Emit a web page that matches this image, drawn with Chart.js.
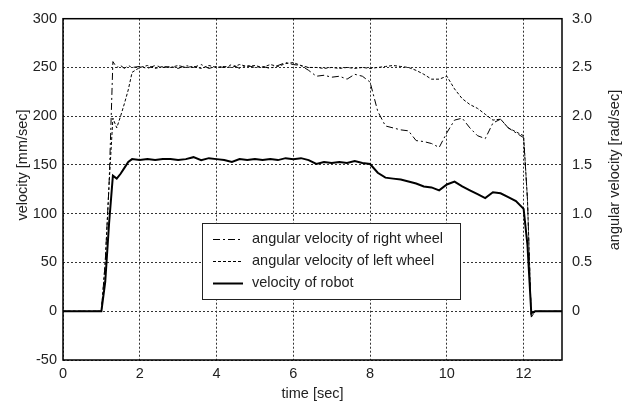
<!DOCTYPE html>
<html lang="en">
<head>
    <meta charset="UTF-8">
    <title>Velocity of robot and wheels</title>
    <style>
        body {
            margin: 0;
            background-color: white;
        }
        #chart {
            display: block;
        }
    </style>
</head>
<body>
    <canvas id="chart" width="624" height="401"></canvas>
    <script src="https://cdn.jsdelivr.net/npm/chart.js"></script>
    <script>
        // time [sec]
        const times = [0, 1.0, 1.1, 1.2, 1.3, 1.4, 1.5, 1.6, 1.7, 1.8,
            2.0, 2.2, 2.4, 2.6, 2.8, 3.0, 3.2, 3.4, 3.6, 3.8,
            4.0, 4.2, 4.4, 4.6, 4.8, 5.0, 5.2, 5.4, 5.6, 5.8,
            6.0, 6.2, 6.4, 6.6, 6.8, 7.0, 7.2, 7.4, 7.6, 7.8,
            8.0, 8.2, 8.4, 8.6, 8.8, 9.0, 9.2, 9.4, 9.6, 9.8,
            10.0, 10.2, 10.4, 10.6, 10.8, 11.0, 11.2, 11.4, 11.6, 11.8,
            12.0, 12.1, 12.2, 12.3, 13.0];

        // velocity of robot [mm/sec]
        const robotVel = [0, 0, 30, 90, 139, 136, 141, 147, 153, 156,
            155, 156, 155, 156, 156, 155, 156, 158, 155, 157,
            156, 155, 153, 156, 155, 156, 155, 156, 155, 157,
            156, 157, 155, 151, 153, 152, 153, 152, 154, 152,
            151, 142, 137, 136, 135, 133, 131, 128, 127, 124,
            130, 133, 128, 124, 120, 116, 122, 121, 117, 113,
            105, 68, -2, 0, 0];

        // angular velocity of right wheel [rad/sec]
        const rightWheel = [0, 0, 0.5, 1.3, 2.56, 2.5, 2.52, 2.49, 2.52, 2.5,
            2.51, 2.49, 2.52, 2.5, 2.51, 2.49, 2.52, 2.5, 2.53, 2.49,
            2.51, 2.5, 2.53, 2.49, 2.52, 2.5, 2.51, 2.49, 2.52, 2.55,
            2.53, 2.52, 2.47, 2.41, 2.42, 2.4, 2.41, 2.38, 2.43, 2.41,
            2.35, 2.05, 1.9, 1.88, 1.86, 1.85, 1.75, 1.74, 1.72, 1.68,
            1.83, 1.96, 1.98, 1.88, 1.80, 1.77, 1.93, 1.97, 1.88, 1.83,
            1.78, 1.15, -0.06, 0, 0];

        // angular velocity of left wheel [rad/sec]
        const leftWheel = [0, 0, 0.5, 1.3, 1.98, 1.88, 2.0, 2.13, 2.27, 2.45,
            2.5, 2.52, 2.49, 2.51, 2.5, 2.52, 2.5, 2.51, 2.49, 2.52,
            2.5, 2.51, 2.5, 2.53, 2.51, 2.52, 2.5, 2.53, 2.51, 2.54,
            2.55, 2.52, 2.5, 2.5, 2.49, 2.5, 2.49, 2.5, 2.49, 2.5,
            2.49, 2.5, 2.51, 2.52, 2.51, 2.5, 2.47, 2.43, 2.38, 2.38,
            2.41, 2.28, 2.18, 2.12, 2.08, 2.02, 1.96, 1.97, 1.88, 1.84,
            1.8, 1.15, -0.06, 0, 0];

        const FONT = { family: '"Liberation Sans", Arial, sans-serif', size: 14.5 };
        const INK = '#222';

        function pts(values) {
            return times.map((t, i) => ({ x: t, y: values[i] }));
        }

        function drawVerticalText(ctx, text, x, y) {
            ctx.save();
            ctx.translate(x, y);
            ctx.rotate(-Math.PI / 2);
            ctx.textAlign = 'center';
            ctx.textBaseline = 'middle';
            ctx.fillText(text, 0, 0);
            ctx.restore();
        }

        // frame round the plot area, y titles, legend box inside the plot
        const framePlugin = {
            id: 'frame',
            afterDatasetsDraw(chart) {
                const { ctx, chartArea } = chart;
                ctx.save();
                ctx.strokeStyle = '#000';
                ctx.lineWidth = 1.5;
                ctx.setLineDash([]);
                ctx.strokeRect(chartArea.left, chartArea.top,
                    chartArea.right - chartArea.left, chartArea.bottom - chartArea.top);

                ctx.font = FONT.size + 'px ' + FONT.family;
                ctx.fillStyle = INK;
                drawVerticalText(ctx, 'velocity [mm/sec]', 23, 165);
                drawVerticalText(ctx, 'angular velocity [rad/sec]', 615, 170);

                // legend
                const bx = 202, by = 223, bw = 258, bh = 76;
                ctx.fillStyle = 'white';
                ctx.fillRect(bx, by, bw, bh);
                ctx.lineWidth = 1;
                ctx.strokeStyle = '#222';
                ctx.strokeRect(bx + 0.5, by + 0.5, bw, bh);
                ctx.textBaseline = 'middle';
                ctx.textAlign = 'left';
                ctx.fillStyle = INK;
                chart.data.datasets.forEach((ds, i) => {
                    const y = by + 16 + i * 22;
                    ctx.beginPath();
                    ctx.lineWidth = ds.borderWidth;
                    ctx.strokeStyle = '#000';
                    ctx.setLineDash(ds.borderDash || []);
                    ctx.moveTo(bx + 11, y + 0.5);
                    ctx.lineTo(bx + 41, y + 0.5);
                    ctx.stroke();
                    ctx.setLineDash([]);
                    ctx.fillText(ds.label, bx + 50, y);
                });
                ctx.restore();
            }
        };

        new Chart(document.getElementById('chart'), {
            type: 'line',
            data: {
                datasets: [{
                    label: 'angular velocity of right wheel',
                    data: pts(rightWheel),
                    yAxisID: 'y1',
                    borderColor: '#000',
                    borderWidth: 1,
                    borderDash: [7, 3, 2, 3]
                }, {
                    label: 'angular velocity of left wheel',
                    data: pts(leftWheel),
                    yAxisID: 'y1',
                    borderColor: '#000',
                    borderWidth: 1,
                    borderDash: [3, 2]
                }, {
                    label: 'velocity of robot',
                    data: pts(robotVel),
                    yAxisID: 'y',
                    borderColor: '#000',
                    borderWidth: 2
                }]
            },
            options: {
                responsive: false,
                animation: false,
                layout: { padding: { top: 17, left: 0, right: 0, bottom: 0 } },
                elements: {
                    point: { radius: 0 },
                    line: { tension: 0, fill: false }
                },
                plugins: {
                    legend: { display: false },
                    tooltip: { enabled: false }
                },
                scales: {
                    x: {
                        type: 'linear',
                        min: 0,
                        max: 13,
                        ticks: { stepSize: 2, includeBounds: false, color: INK, font: FONT, padding: 5, maxRotation: 0 },
                        grid: { color: '#333', drawTicks: false },
                        border: { display: false, dash: [2, 2] },
                        title: { display: true, text: 'time [sec]', color: INK, font: FONT, padding: { top: 0, bottom: -2 } },
                        afterFit(scale) { scale.height = 41; }
                    },
                    y: {
                        position: 'left',
                        min: -50,
                        max: 300,
                        ticks: { stepSize: 50, color: INK, font: FONT, padding: 6 },
                        grid: { color: '#333', drawTicks: false },
                        border: { display: false, dash: [2, 2] },
                        afterFit(scale) { scale.width = 63; }
                    },
                    y1: {
                        position: 'right',
                        min: -0.5,
                        max: 3.0,
                        ticks: {
                            stepSize: 0.5, color: INK, font: FONT, padding: 10,
                            callback: v => v < 0 ? '' : (v === 0 ? '0' : v.toFixed(1))
                        },
                        grid: { display: false, drawTicks: false },
                        border: { display: false },
                        afterFit(scale) { scale.width = 62; }
                    }
                }
            },
            plugins: [framePlugin]
        });
    </script>
</body>
</html>
